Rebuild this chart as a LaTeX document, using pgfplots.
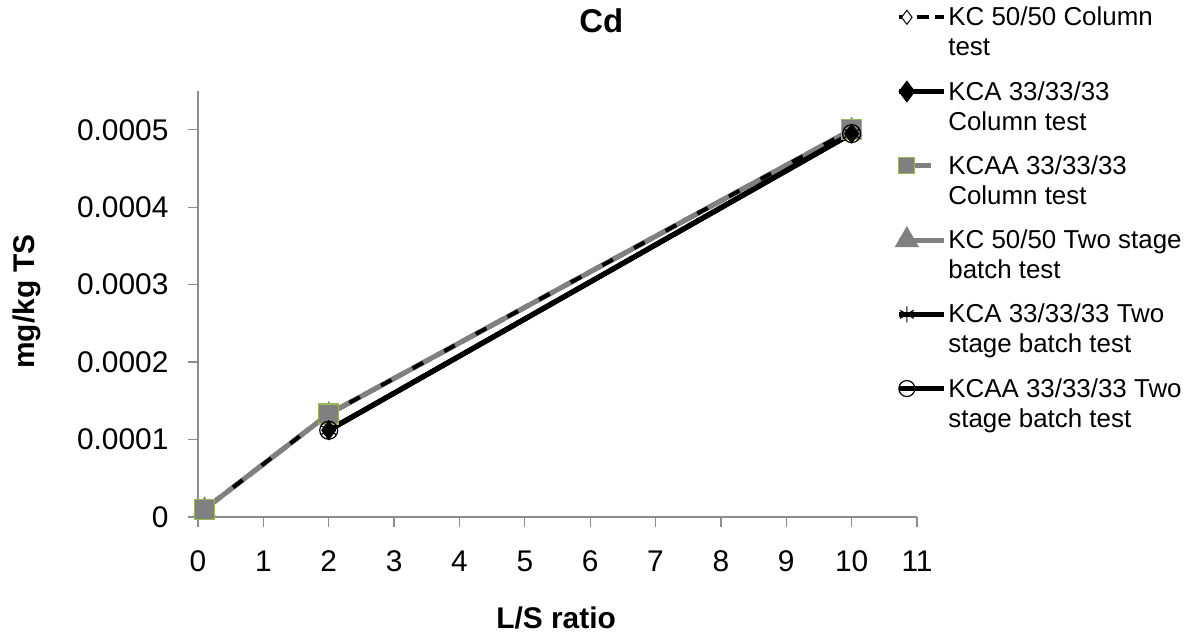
\documentclass[border=0pt]{standalone}
\usepackage{pgfplots}
\pgfplotsset{compat=1.18}
\usepackage{fontspec}
\setmainfont{Liberation Sans}
\definecolor{sqedge}{RGB}{150,185,90}
\definecolor{lgray}{RGB}{128,128,128}
\definecolor{axgray}{RGB}{140,140,140}
\begin{document}
\begin{tikzpicture}[x=1bp,y=1bp]
\useasboundingbox (0,0) rectangle (1203,639);
\begin{axis}[
  at={(198bp,122bp)}, anchor=south west,
  scale only axis, width=719bp, height=426bp,
  xmin=0, xmax=11, ymin=0, ymax=0.00055,
  axis x line*=bottom, axis y line*=left,
  axis line style={axgray, line width=1.2bp},
  xtick={0,1,2,3,4,5,6,7,8,9,10,11},
  ytick={0,0.0001,0.0002,0.0003,0.0004,0.0005},
  yticklabels={0,0.0001,0.0002,0.0003,0.0004,0.0005},
  scaled y ticks=false,
  tick align=outside, major tick length=10bp,
  tick style={axgray, line width=1.2bp},
  ticklabel style={font=\fontsize{30}{34}\selectfont},
  yticklabel style={xshift=-16bp},
  xticklabel style={yshift=-20bp},
  /pgf/number format/assume math mode=true,
  xlabel={L/S ratio},
  ylabel={mg/kg TS},
  xlabel style={at={(axis description cs:0.498,-0.237)}, anchor=center, font=\bfseries\fontsize{30}{34}\selectfont},
  ylabel style={at={(axis description cs:-0.2378,0.506)}, anchor=center, font=\bfseries\fontsize{30}{34}\selectfont},
  title={Cd},
  title style={at={(axis description cs:0.561,1.152)}, anchor=center, font=\bfseries\fontsize{33}{38}\selectfont},
  legend style={at={(axis description cs:0.971,1.2019)}, anchor=north west, draw=none, fill=none, inner sep=0pt,
    row sep=50bp, font=\fontsize{26}{30}\selectfont, cells={anchor=west}},
  legend image code/.code={
    \draw[mark=none,#1] (-4bp,0bp) -- (41bp,0bp);
    \draw[#1, solid] plot coordinates {(4bp,0bp)};
  },
  clip=false,
]
% gray solid: KC 50/50 two stage
\addplot[forget plot, lgray, line width=5bp, mark=triangle*, mark size=8bp, mark options={fill=lgray, draw=lgray}]
  coordinates {(0.1,0.00001) (2,0.000133) (10,0.0005)};
% gray dashed: KCAA column
\addplot[forget plot, lgray, line width=5bp, dash pattern=on 20bp off 8bp, mark=square*, mark size=10bp, mark options={solid, fill=lgray, draw=sqedge, line width=1.2bp}]
  coordinates {(0.1,0.00001) (2,0.000133) (10,0.0005)};
% black dashed: KC 50/50 column
\addplot[forget plot, black, line width=4bp, dash pattern=on 12bp off 24bp, mark=none]
  coordinates {(0.1,0.00001) (2,0.000133) (10,0.0005)};
% black: KCA column
\addplot[forget plot, black, line width=5bp, mark=diamond*, mark size=6bp, mark options={fill=black}]
  coordinates {(2,0.000112) (10,0.000495)};
% KCAA two stage
\addplot[forget plot, black, line width=5bp, mark=o, mark size=9bp, mark options={line width=1.2bp, fill=white}]
  coordinates {(2,0.000112) (10,0.000495)};
% KCA two stage
\addplot[forget plot, black, line width=5bp, mark=asterisk, mark size=9bp, mark options={line width=1.2bp}]
  coordinates {(2,0.000112) (10,0.000495)};

\addlegendimage{black, line width=4bp, dash pattern=on 12bp off 6bp, mark=diamond*, mark size=7bp, mark options={fill=white, draw=black, line width=1bp}}
\addlegendentry{\vtop{\hbox{KC 50/50 Column}\hbox{test}}}
\addlegendimage{black, line width=5bp, mark=diamond*, mark size=7bp, mark options={fill=black}}
\addlegendentry{\vtop{\hbox{KCA 33/33/33}\hbox{Column test}}}
\addlegendimage{lgray, line width=5bp, dash pattern=on 0bp off 14bp on 18bp off 20bp, mark=square*, mark size=8bp, mark options={fill=lgray, draw=sqedge, line width=1.2bp}}
\addlegendentry{\vtop{\hbox{KCAA 33/33/33}\hbox{Column test}}}
\addlegendimage{lgray, line width=5bp, mark=triangle*, mark size=9bp, mark options={fill=lgray, draw=lgray}}
\addlegendentry{\vtop{\hbox{KC 50/50 Two stage}\hbox{batch test}}}
\addlegendimage{black, line width=5bp, mark=asterisk, mark size=8bp, mark options={line width=1.2bp}}
\addlegendentry{\vtop{\hbox{KCA 33/33/33 Two}\hbox{stage batch test}}}
\addlegendimage{black, line width=5bp, mark=o, mark size=8bp, mark options={line width=1.2bp, fill=white}}
\addlegendentry{\vtop{\hbox{KCAA 33/33/33 Two}\hbox{stage batch test}}}
\end{axis}
\end{tikzpicture}
\end{document}
